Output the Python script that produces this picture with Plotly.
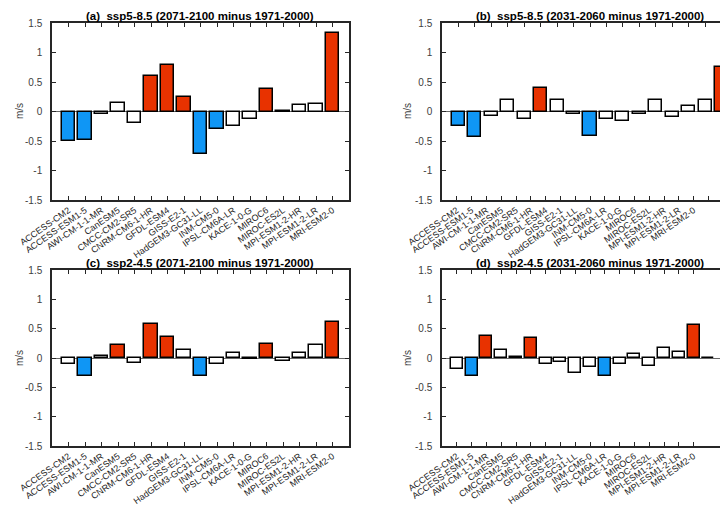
import plotly.graph_objects as go

models = ["ACCESS-CM2", "ACCESS-ESM1-5", "AWI-CM-1-1-MR", "CanESM5", "CMCC-CM2-SR5",
          "CNRM-CM6-1-HR", "GFDL-ESM4", "GISS-E2-1", "HadGEM3-GC31-LL", "INM-CM5-0",
          "IPSL-CM6A-LR", "KACE-1-0-G", "MIROC6", "MIROC-ES2L", "MPI-ESM1-2-HR",
          "MPI-ESM1-2-LR", "MRI-ESM2-0"]

titles = ["(a)\u00a0 ssp5-8.5 (2071-2100 minus 1971-2000)",
          "(b)\u00a0 ssp5-8.5 (2031-2060 minus 1971-2000)",
          "(c)\u00a0 ssp2-4.5 (2071-2100 minus 1971-2000)",
          "(d)\u00a0 ssp2-4.5 (2031-2060 minus 1971-2000)"]

# values (m/s)
vals_a = [-0.50, -0.49, -0.04, 0.15, -0.20, 0.60, 0.79, 0.24, -0.72, -0.30,
          -0.25, -0.13, 0.38, 0.01, 0.11, 0.12, 1.33]
vals_b = [-0.25, -0.43, -0.07, 0.19, -0.12, 0.39, 0.20, -0.05, -0.42, -0.13,
          -0.16, -0.04, 0.19, -0.10, 0.09, 0.20, 0.75]
vals_c = [-0.11, -0.31, 0.03, 0.22, -0.08, 0.58, 0.35, 0.14, -0.31, -0.11,
          0.08, -0.02, 0.24, -0.05, 0.09, 0.22, 0.62]
vals_d = [-0.19, -0.31, 0.38, 0.13, 0.015, 0.34, -0.11, -0.06, -0.25, -0.155,
          -0.31, -0.11, 0.07, -0.14, 0.17, 0.10, 0.57, 0.0]

# significance: 1 = significant increase, -1 = significant decrease, 0 = not significant
sig_a = [-1, -1, 0, 0, 0, 1, 1, 1, -1, -1, 0, 0, 1, 0, 0, 0, 1]
sig_b = [-1, -1, 0, 0, 0, 1, 0, 0, -1, 0, 0, 0, 0, 0, 0, 0, 1]
sig_c = [0, -1, 0, 1, 0, 1, 1, 0, -1, 0, 0, 0, 1, 0, 0, 0, 1]
sig_d = [0, -1, 1, 0, 0, 1, 0, 0, 0, 0, -1, 0, 0, 0, 0, 0, 1, 0]

ytick_vals = [-1.5, -1, -0.5, 0, 0.5, 1, 1.5]
ytick_text = ["-1.5", "-1", "-0.5", "0", "0.5", "1", "1.5"]

RED = "#E83200"
BLUE = "#0F96F5"
WHITE = "#FFFFFF"
FONT = "Arial, Liberation Sans, sans-serif"
AX = "#262626"

# page body has an 8 px margin: the figure covers page pixels 8..728 x 8..505
OFF = 8
W, H = 728 - OFF, 505 - OFF
def px_x(p):
    return (p - OFF) / W
def px_y(p):
    return 1 - (p - OFF) / H

color_of = {1: RED, -1: BLUE, 0: WHITE}

fig = go.Figure()
panels = [(vals_a, sig_a, "x", "y"), (vals_b, sig_b, "x2", "y2"),
          (vals_c, sig_c, "x3", "y3"), (vals_d, sig_d, "x4", "y4")]
for vals, sig, xa, ya in panels:
    fig.add_trace(go.Bar(
        x=list(range(1, len(vals) + 1)), y=vals, width=0.8,
        marker=dict(color=[color_of[s] for s in sig], line=dict(color="black", width=1.5)),
        xaxis=xa, yaxis=ya, showlegend=False, hoverinfo="skip"))
# placeholder trace for the label axis of panel (b)
fig.add_trace(go.Scatter(x=[], y=[], xaxis="x5", yaxis="y2", showlegend=False))

xl = [px_x(52), px_x(349)]
xr = [px_x(442), 1.0]
yt = [px_y(200), px_y(23)]
yb = [px_y(446), px_y(270)]

# full axis width is 296 px; right panels are cut at the page edge (286 px visible)
cut = 286 / 296

common_x = dict(showgrid=False, zeroline=False, showline=True, linecolor=AX, linewidth=1.5,
                ticks="inside", ticklen=4, tickwidth=1, tickcolor=AX, automargin=False,
                tickfont=dict(family=FONT, size=9, color="#222222"), tickangle=-35)
common_y = dict(showgrid=False, zeroline=True, zerolinecolor="#666666", zerolinewidth=1,
                showline=True, linecolor=AX, linewidth=1.5, ticks="inside", ticklen=4,
                tickwidth=1, tickcolor=AX, range=[-1.5, 1.5], tickvals=ytick_vals,
                ticktext=ytick_text, ticklabelstandoff=6, automargin=False,
                tickfont=dict(family=FONT, size=10, color="#404040"))

ticks17 = list(range(1, 18))
fig.update_layout(
    template="none",
    font=dict(family=FONT, color="#222222"),
    width=W, height=H, margin=dict(l=0, r=0, t=0, b=0, autoexpand=False),
    paper_bgcolor="white", plot_bgcolor="white", bargap=0,
    xaxis=dict(common_x, domain=xl, anchor="y", range=[0, 18], mirror="ticks",
               tickvals=ticks17, ticktext=models),
    yaxis=dict(common_y, domain=yt, anchor="x", mirror="ticks"),
    xaxis2=dict(common_x, domain=xr, anchor="y2", range=[0, 18 * cut], side="top",
                mirror=False, tickvals=ticks17, showticklabels=False),
    xaxis5=dict(common_x, domain=xr, anchor="y2", overlaying="x2", range=[0, 20 * cut],
                side="bottom", tickvals=list(range(1, 20)), ticktext=models + ["", ""]),
    yaxis2=dict(common_y, domain=yt, anchor="x2", mirror=False),
    xaxis3=dict(common_x, domain=xl, anchor="y3", range=[0, 18], mirror="ticks",
                tickvals=ticks17, ticktext=models),
    yaxis3=dict(common_y, domain=yb, anchor="x3", mirror="ticks"),
    xaxis4=dict(common_x, domain=xr, anchor="y4", range=[0, 20 * cut], mirror="ticks",
                tickvals=ticks17, ticktext=models),
    yaxis4=dict(common_y, domain=yb, anchor="x4", mirror=False),
)

title_pos = [(200, 16), (590, 16), (200, 263), (590, 263)]
for t, (cx, cy) in zip(titles, title_pos):
    fig.add_annotation(text="<b>" + t + "</b>", x=px_x(cx), y=px_y(cy), xref="paper",
                       yref="paper", showarrow=False, xanchor="center", yanchor="middle",
                       font=dict(family=FONT, size=11.5, color="black"))
for cx, cy in [(19, 111), (407, 111), (19, 358), (407, 358)]:
    fig.add_annotation(text="m/s", x=px_x(cx), y=px_y(cy), xref="paper", yref="paper",
                       showarrow=False, textangle=-90, xanchor="center", yanchor="middle",
                       font=dict(family=FONT, size=10, color="#404040"))

fig.write_html("out.html")
